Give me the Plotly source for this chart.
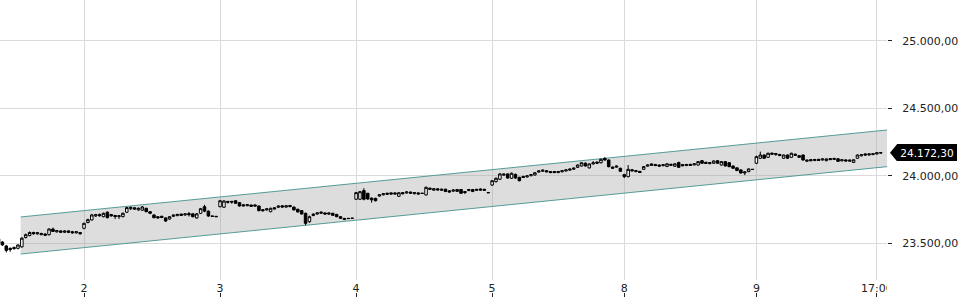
import plotly.graph_objects as go

# ---------------- data ----------------
# 15-minute candles, index 0 = first visible candle
opens = [
    # day 1 (end of previous day)
    23535,23512,23483,23465,23472,23465,23476,23545,23560,23582,23572,23566,23571,23566,23608,23587,23594,23584,23594,23588,23580,23582,
    # day 2
    23613,23656,23675,23704,23716,23699,23732,23715,23708,23700,23699,23732,23758,23765,23749,23747,23761,23736,23712,23699,23702,23690,23682,23702,23707,23718,23712,23722,23720,23690,23724,23773,23740,23705,23702,
    # day 3
    23773,23769,23812,23806,23817,23803,23787,23780,23785,23786,23778,23751,23749,23736,23765,23769,23779,23770,23782,23770,23754,23744,23724,23662,23708,23719,23724,23727,23718,23724,23716,23699,23678,23687,23686,
    # day 4
    23828,23828,23892,23872,23836,23835,23852,23861,23864,23875,23866,23850,23877,23874,23881,23869,23875,23873,23860,23910,23895,23905,23894,23902,23890,23888,23886,23900,23885,23892,23885,23893,23904,23893,23878,
    # day 5
    23933,23958,23976,24006,24015,23983,24012,23990,23997,23993,24002,24007,24029,24035,24039,24033,24033,24025,24031,24037,24043,24050,24064,24074,24095,24060,24089,24103,24098,24130,24118,24066,24065,24057,
    # day 8
    24010,23995,24046,24032,24034,24049,24073,24078,24085,24081,24076,24070,24078,24072,24100,24084,24077,24086,24082,24081,24113,24101,24091,24094,24113,24081,24106,24098,24074,24060,24045,24022,24032,24050,
    # day 9
    24094,24131,24155,24138,24169,24158,24159,24131,24155,24138,24161,24150,24155,24109,24121,24114,24123,24118,24113,24129,24122,24127,24112,24119,24109,24100,24131,24149,24163,24155,24158,24163,24169,
]
highs = [
    23545,23518,23488,23472,23478,23495,23548,23574,23590,23588,23586,23580,23576,23614,23618,23600,23598,23598,23598,23594,23592,23586,
    23655,23684,23720,23720,23722,23730,23738,23720,23712,23710,23730,23772,23774,23770,23768,23778,23765,23741,23716,23703,23706,23694,23704,23715,23720,23722,23725,23734,23725,23726,23764,23787,23745,23706,23703,
    23824,23822,23816,23815,23821,23807,23790,23792,23788,23790,23782,23755,23761,23766,23770,23782,23784,23784,23786,23774,23758,23748,23729,23707,23724,23731,23738,23731,23730,23728,23720,23703,23690,23688,23689,
    23882,23890,23910,23876,23842,23839,23866,23873,23876,23879,23878,23880,23881,23887,23885,23881,23879,23874,23922,23914,23910,23909,23906,23906,23894,23900,23904,23904,23888,23904,23904,23905,23908,23905,23879,
    23970,23988,24022,24018,24019,24026,24017,23994,24001,24005,24014,24028,24041,24047,24043,24037,24037,24037,24043,24049,24055,24062,24086,24102,24099,24093,24110,24107,24127,24139,24122,24070,24077,24061,
    24016,24081,24052,24044,24038,24073,24085,24093,24089,24085,24088,24094,24090,24094,24105,24088,24089,24090,24094,24110,24118,24105,24103,24115,24117,24110,24110,24102,24078,24064,24049,24036,24056,24051,
    24150,24180,24159,24172,24173,24170,24164,24159,24159,24172,24165,24154,24159,24121,24125,24126,24127,24130,24130,24133,24134,24131,24124,24123,24121,24124,24159,24161,24167,24167,24170,24176,24176,
]
lows = [
    23500,23484,23435,23440,23455,23458,23470,23538,23554,23566,23566,23562,23556,23560,23586,23582,23578,23578,23578,23574,23574,23566,
    23606,23650,23670,23698,23700,23694,23686,23700,23682,23682,23694,23726,23748,23750,23744,23742,23732,23718,23686,23684,23688,23660,23676,23696,23702,23704,23706,23700,23694,23684,23718,23732,23698,23700,23698,
    23768,23764,23796,23795,23794,23774,23776,23777,23772,23774,23738,23738,23744,23732,23752,23764,23766,23766,23768,23745,23730,23715,23636,23654,23702,23714,23720,23714,23712,23705,23695,23683,23674,23684,23685,
    23822,23822,23820,23824,23803,23812,23846,23856,23860,23862,23861,23845,23864,23870,23868,23864,23862,23870,23855,23897,23891,23893,23890,23881,23876,23884,23882,23868,23866,23888,23881,23889,23892,23889,23875,
    23926,23952,23970,24002,23980,23978,23980,23960,23985,23989,23998,24003,24025,24031,24027,24021,24021,24021,24027,24033,24039,24046,24059,24069,24070,24055,24085,24091,24093,24114,24064,24054,24061,24029,
    23984,23990,24034,24028,24022,24045,24069,24074,24073,24069,24072,24066,24074,24068,24060,24072,24073,24074,24078,24077,24090,24089,24087,24090,24090,24077,24070,24065,24053,24036,24018,24006,24028,24047,
    24088,24127,24127,24134,24157,24150,24147,24127,24127,24134,24149,24134,24114,24103,24109,24110,24111,24114,24109,24117,24118,24104,24108,24107,24105,24096,24127,24145,24151,24151,24154,24158,24166,
]
closes = [
    23505,23490,23450,23456,23463,23490,23540,23566,23582,23573,23581,23575,23562,23608,23590,23596,23584,23593,23584,23580,23588,23573,
    23650,23677,23712,23714,23706,23724,23692,23705,23700,23706,23724,23766,23768,23755,23761,23771,23736,23724,23692,23690,23693,23667,23699,23711,23716,23709,23720,23714,23699,23720,23758,23740,23704,23701,23699,
    23817,23815,23806,23812,23798,23778,23779,23788,23776,23778,23744,23743,23757,23761,23757,23777,23771,23780,23774,23749,23734,23719,23650,23699,23718,23727,23732,23719,23726,23709,23699,23687,23686,23685,23688,
    23877,23884,23828,23830,23824,23817,23861,23869,23872,23867,23874,23876,23869,23882,23873,23877,23867,23871,23916,23902,23906,23897,23902,23885,23882,23896,23900,23872,23878,23900,23900,23901,23896,23901,23876,
    23965,23983,24015,24014,23985,24020,23985,23965,23989,24001,24010,24024,24037,24043,24031,24025,24025,24033,24039,24045,24051,24058,24081,24098,24074,24089,24097,24095,24123,24118,24069,24058,24073,24035,
    23995,24049,24038,24040,24026,24069,24081,24089,24077,24073,24084,24090,24086,24090,24064,24076,24085,24078,24090,24106,24094,24093,24099,24111,24094,24106,24074,24069,24057,24040,24022,24030,24052,24048,
    24143,24155,24131,24168,24161,24166,24151,24155,24131,24168,24153,24138,24118,24117,24113,24122,24115,24126,24126,24121,24130,24108,24120,24111,24117,24120,24155,24157,24155,24163,24166,24172,24172.30,
]

# x-axis labels (candle index where each label sits)
tick_index = [22, 57, 92, 127, 161, 195, 226]
tick_labels = ["2", "3", "4", "5", "8", "9", "17:00"]

# trend channel (start/end candle index, upper and lower bound values)
channel_x = [5.7, 228.6]
channel_upper = [23697, 24340]
channel_lower = [23423, 24069]

y_ticks = [23500, 24000, 24500, 25000]
last_price = closes[-1]
last_label = "24.172,30"

# ---------------- figure ----------------
FONT = "DejaVu Sans"
X_RANGE = [0.38, 228.6]
Y_RANGE = [23231, 25301]
TEAL = "#559b9b"
GRID = "#dadada"

idx = list(range(len(closes)))

fig = go.Figure()
fig.add_trace(go.Scatter(
    x=channel_x, y=channel_lower, mode="lines",
    line=dict(color=TEAL, width=1), hoverinfo="skip", showlegend=False))
fig.add_trace(go.Scatter(
    x=channel_x, y=channel_upper, mode="lines",
    line=dict(color=TEAL, width=1), fill="tonexty",
    fillcolor="rgba(160,160,160,0.36)", hoverinfo="skip", showlegend=False))
fig.add_trace(go.Candlestick(
    x=idx, open=opens, high=highs, low=lows, close=closes,
    xaxis="x2", yaxis="y",
    increasing=dict(fillcolor="white", line=dict(color="black", width=1)),
    decreasing=dict(fillcolor="black", line=dict(color="black", width=1)),
    whiskerwidth=0, showlegend=False))

H = 300
MB = 3
plot_bottom_px = 280
dom0 = (H - MB - plot_bottom_px) / (H - MB)

fig.update_layout(
    width=960, height=H,
    margin=dict(l=0, r=73, t=0, b=MB, pad=0),
    paper_bgcolor="white", plot_bgcolor="white",
    separators=",.",
    font=dict(family=FONT, size=11, color="#222222"),
    showlegend=False,
    boxgap=0.35, boxgroupgap=0,
    xaxis=dict(
        range=X_RANGE, tickmode="array", tickvals=tick_index, ticktext=tick_labels,
        showgrid=True, gridcolor=GRID, gridwidth=1, ticks="", showline=False,
        zeroline=False, rangeslider=dict(visible=False), fixedrange=True,
        tickfont=dict(size=11, color="#222222")),
    xaxis2=dict(
        range=X_RANGE, overlaying="x", anchor="free", position=0, side="bottom",
        tickmode="array", tickvals=tick_index, ticks="inside", ticklen=4,
        tickcolor="#222222", showticklabels=False, showgrid=False, showline=False,
        zeroline=False, rangeslider=dict(visible=False)),
    yaxis=dict(
        range=Y_RANGE, domain=[dom0, 1], side="right",
        tickmode="array", tickvals=y_ticks, tickformat=",.2f",
        ticks="outside", ticklen=4, tickcolor="#222222",
        ticklabelstandoff=8,
        showgrid=True, gridcolor=GRID, gridwidth=1, zeroline=False, showline=False,
        tickfont=dict(size=11, color="#222222")),
)

# mask to clip the last x label at the plot edge (like the original)
fig.add_shape(type="rect", xref="paper", yref="paper", x0=1.0, x1=1.2, y0=-0.02, y1=dom0 - 0.003,
              fillcolor="white", line=dict(width=0), layer="above")

# last-price marker: pointer triangle + black label
plot_w = 960 - 73
px_per_unit = plot_bottom_px / (Y_RANGE[1] - Y_RANGE[0])
tip = 1 + 3 / plot_w
base = 1 + 10 / plot_w
half = 8.5 / px_per_unit
fig.add_shape(type="path", xref="paper", yref="y",
              path=f"M {tip},{last_price} L {base},{last_price + half} L {base},{last_price - half} Z",
              fillcolor="black", line=dict(width=0), layer="above")
fig.add_annotation(xref="paper", yref="y", x=base, y=last_price, xanchor="left", yanchor="middle",
                   text=last_label, showarrow=False, bgcolor="black",
                   font=dict(family=FONT, size=10.5, color="white"),
                   width=60, height=17, borderpad=0, borderwidth=0)

fig.write_html("out.html")
